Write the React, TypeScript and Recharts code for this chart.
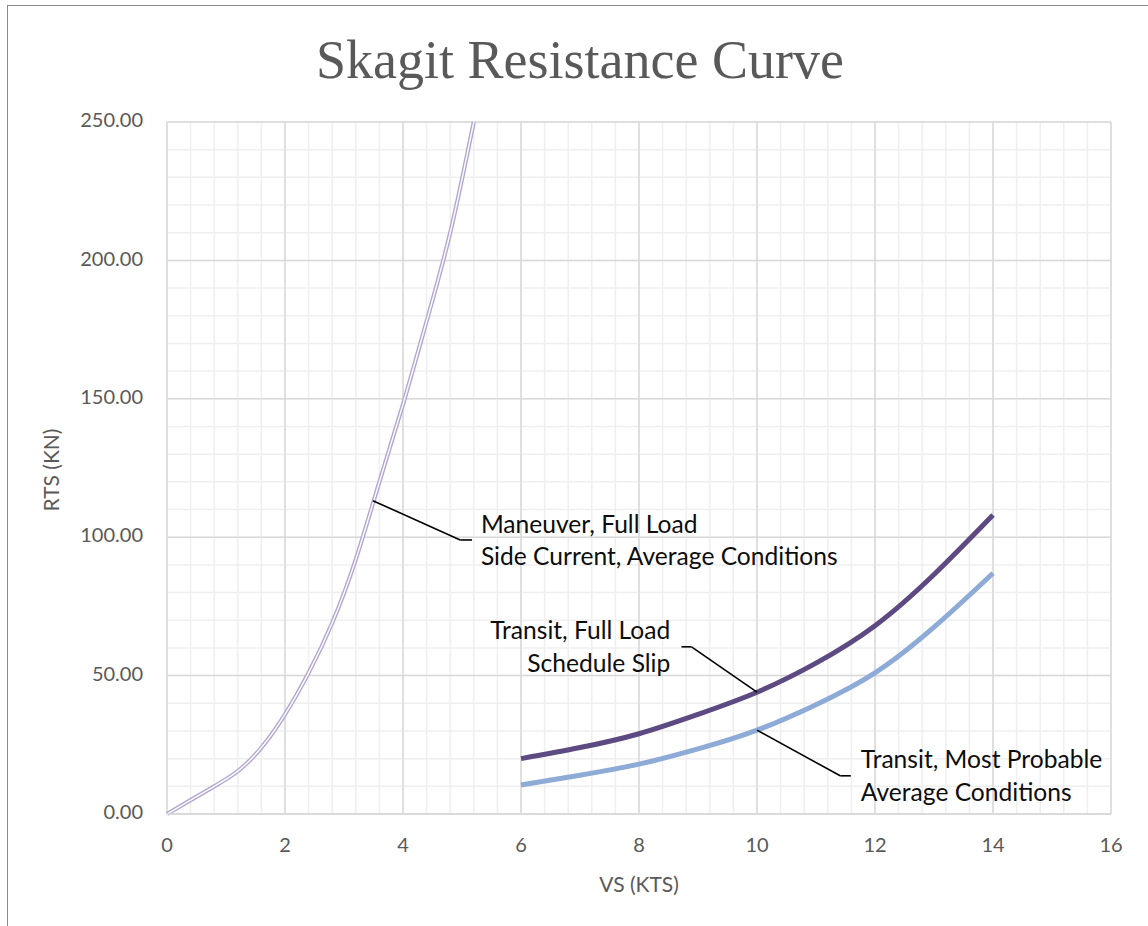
import React from 'react';
import { LineChart, Line, XAxis, YAxis, CartesianGrid, ReferenceLine, ReferenceDot } from 'recharts';

// ---- data ----
const maneuverVs = [0, 0.4, 0.8, 1.2, 1.6, 2.0, 2.4, 2.8, 3.2, 3.6, 4.0, 4.4, 4.8, 5.2];
const maneuverRts = [0, 5, 10, 15.5, 24, 36, 51, 69, 92, 120, 148, 178, 210, 250];

const fullLoadVs = [6, 7, 8, 9, 10, 11, 12, 13, 14];
const fullLoadRts = [20, 24, 29, 36, 44, 54.5, 68, 86.5, 108];

const probableVs = [6, 7, 8, 9, 10, 11, 12, 13, 14];
const probableRts = [10.5, 14, 18, 23.5, 30.3, 39.5, 51, 67.5, 87];

const xTicks = [0, 2, 4, 6, 8, 10, 12, 14, 16];
const yTicks = [0, 50, 100, 150, 200, 250];
const xMinor = Array.from({ length: 41 }, (_, i) => +(i * 0.4).toFixed(1));
const yMinor = Array.from({ length: 26 }, (_, i) => i * 10);

const annotLabels = [
  ['Maneuver, Full Load', 'Side Current, Average Conditions'],
  ['Transit, Full Load', 'Schedule Slip'],
  ['Transit, Most Probable', 'Average Conditions'],
];
const annotTextX = [5.32, 8.53, 11.76];
const annotTextY = [101.6, 63.1, 16.5];
const annotAlign = ['start', 'end', 'start'];
const annotLeaderX = [[3.49, 4.97, 5.17], [10, 8.89, 8.72], [10, 11.41, 11.59]];
const annotLeaderY = [[113.2, 99, 99], [44, 60.4, 60.4], [30.3, 13.8, 13.8]];

const toPoints = (xs: number[], ys: number[]) => xs.map((x, i) => ({ vs: x, rts: ys[i] }));
const maneuver = toPoints(maneuverVs, maneuverRts);
const fullLoad = toPoints(fullLoadVs, fullLoadRts);
const probable = toPoints(probableVs, probableRts);

const TICK_FONT = 'Lato, "Open Sans", sans-serif';
const TEXT_GRAY = '#595959';

const makeLabelShape = (lines: string[], anchor: string) => (props: any) => {
  const { cx, cy } = props;
  return (
    <text x={cx} y={cy} textAnchor={anchor as any} fontFamily={TICK_FONT} fontSize={24.6} fill="#0d0d0d">
      {lines.map((l, i) => (
        <tspan key={i} x={cx} dy={i === 0 ? 0 : 32.5}>{l}</tspan>
      ))}
    </text>
  );
};

export default function App() {
  return (
    <div style={{ position: 'absolute', left: 0, top: 0, width: 1148, height: 926, background: '#fff', overflow: 'hidden' }}>
      <style>{'body{margin:0;overflow:hidden;}'}</style>
      <div style={{ position: 'absolute', left: 7, top: 5, width: 1160, height: 940, borderLeft: '1.5px solid #8a8a8a', borderTop: '1.5px solid #8a8a8a' }} />
      <div style={{ position: 'absolute', left: 0, top: 0 }}>
        <LineChart width={1148} height={926} margin={{ top: 122, right: 37, bottom: 82, left: 67 }}>
          <CartesianGrid stroke="#efefef" strokeWidth={1.5} verticalValues={xMinor} horizontalValues={yMinor} />
          <CartesianGrid stroke="#d9d9d9" strokeWidth={1.5} verticalValues={xTicks} horizontalValues={yTicks} />
          <XAxis
            type="number"
            dataKey="vs"
            domain={[0, 16]}
            ticks={xTicks}
            height={30}
            tickSize={0}
            tickMargin={24}
            axisLine={{ stroke: '#d9d9d9', strokeWidth: 1.5 }}
            tickLine={false}
            tick={{ fill: TEXT_GRAY, fontSize: 20, fontFamily: TICK_FONT }}
            interval={0}
          />
          <YAxis
            type="number"
            domain={[0, 250]}
            ticks={yTicks}
            width={100}
            tickSize={0}
            tickMargin={24}
            axisLine={false}
            tickLine={false}
            tickFormatter={(v: number) => v.toFixed(2)}
            tick={{ fill: TEXT_GRAY, fontSize: 20, fontFamily: TICK_FONT, dy: -2 }}
            interval={0}
          />
          <Line data={maneuver} dataKey="rts" type="natural" stroke="#b3a6d3" strokeWidth={4.2} dot={false} isAnimationActive={false} />
          <Line data={maneuver} dataKey="rts" type="natural" stroke="#ffffff" strokeWidth={1.4} dot={false} isAnimationActive={false} />
          <Line data={fullLoad} dataKey="rts" type="natural" stroke="#5e4a82" strokeWidth={5} dot={false} isAnimationActive={false} />
          <Line data={probable} dataKey="rts" type="natural" stroke="#8eaad6" strokeWidth={5} dot={false} isAnimationActive={false} />
          {annotLeaderX.map((xs, k) =>
            xs.slice(0, -1).map((x, j) => (
              <ReferenceLine
                key={`l${k}-${j}`}
                segment={[{ x, y: annotLeaderY[k][j] }, { x: xs[j + 1], y: annotLeaderY[k][j + 1] }]}
                stroke="#000"
                strokeWidth={1.6}
                ifOverflow="visible"
              />
            ))
          )}
          {annotLabels.map((lines, k) => (
            <ReferenceDot
              key={`t${k}`}
              x={annotTextX[k]}
              y={annotTextY[k]}
              r={1}
              ifOverflow="visible"
              shape={makeLabelShape(lines, annotAlign[k])}
            />
          ))}
        </LineChart>
      </div>
      <svg width={1148} height={926} style={{ position: 'absolute', left: 0, top: 0, pointerEvents: 'none' }}>
        <text x={580} y={78} textAnchor="middle" fontFamily='"Liberation Serif", serif' fontSize={54} fill={TEXT_GRAY}>
          Skagit Resistance Curve
        </text>
        <text x={639} y={892} textAnchor="middle" fontFamily={TICK_FONT} fontSize={21} fill={TEXT_GRAY}>
          VS (KTS)
        </text>
        <text x={59} y={470} textAnchor="middle" fontFamily={TICK_FONT} fontSize={21} fill={TEXT_GRAY} transform="rotate(-90 59 470)">
          RTS (KN)
        </text>
      </svg>
    </div>
  );
}
